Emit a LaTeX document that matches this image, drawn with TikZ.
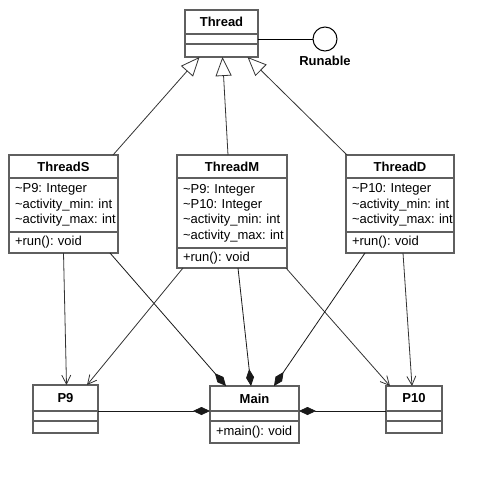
\documentclass[tikz,border=0pt]{standalone}
\usepackage{fontspec}
\setmainfont{Liberation Sans}
\usetikzlibrary{positioning,arrows.meta}
\definecolor{umlgray}{RGB}{95,95,95}
\hyphenpenalty=10000
\tikzset{
  part/.style={draw=umlgray, line width=1.3pt, fill=white, outer sep=0pt, inner xsep=6pt, inner ysep=0pt,
    font=\fontsize{13}{15.3}\selectfont},
  head/.style={part, align=center, font=\fontsize{13}{15.3}\selectfont\bfseries},
  body/.style={part, align=left},
  inherit/.style={-{Triangle[length=19pt, width=16pt, fill=white]}, line width=0.8pt, black!80},
  owns/.style={-{Diamond[length=17pt, width=8pt]}, line width=0.8pt, black!90},
  uses/.style={-{Straight Barb[length=9pt, width=9pt]}, line width=0.8pt, black!80}
}

\begin{document}
\begin{tikzpicture}[x=1pt, y=-1pt]
    \useasboundingbox (0,0) rectangle (495,483);
    % interface side
    \node[head, text width=61pt, minimum height=24pt, anchor=north west] (thread) at (185,10) {Thread};
    \node[body, text width=61pt, minimum height=10pt, below=0pt of thread] (threadA) {};
    \node[body, text width=61pt, minimum height=13pt, below=0pt of threadA] (threadO) {};
    \node[circle, draw, line width=1pt, minimum size=24pt, inner sep=0pt] (runable) at (325,39) {};
    \node[below=1pt of runable, font=\fontsize{13}{15.3}\selectfont\bfseries] (runableL) {Runable};
    % threads
    \node[head, text width=97pt, minimum height=23pt, anchor=north west] (threadS) at (9,155) {ThreadS};
    \node[body, text width=97pt, minimum height=54pt, below=0pt of threadS] (threadSA)
      {\textasciitilde P9:~Integer\\\textasciitilde activity\_min:~int\\\textasciitilde activity\_max:~int};
    \node[body, text width=97pt, minimum height=21pt, below=0pt of threadSA] (threadSO) {+run():~void};
    \node[head, text width=98pt, minimum height=23pt, anchor=north west] (threadM) at (177,155) {ThreadM};
    \node[body, text width=98pt, minimum height=70pt, below=0pt of threadM] (threadMA)
      {\textasciitilde P9:~Integer\\\textasciitilde P10:~Integer\\\textasciitilde activity\_min:~int\\\textasciitilde activity\_max:~int};
    \node[body, text width=98pt, minimum height=20pt, below=0pt of threadMA] (threadMO) {+run():~void};
    \node[head, text width=96pt, minimum height=23pt, anchor=north west] (threadD) at (346,155) {ThreadD};
    \node[body, text width=96pt, minimum height=54pt, below=0pt of threadD] (threadDA)
      {\textasciitilde P10:~Integer\\\textasciitilde activity\_min:~int\\\textasciitilde activity\_max:~int};
    \node[body, text width=96pt, minimum height=21pt, below=0pt of threadDA] (threadDO) {+run():~void};
    % bottom row
    \node[head, text width=53pt, minimum height=26pt, anchor=north west] (p9) at (33,385) {P9};
    \node[body, text width=53pt, minimum height=10pt, below=0pt of p9] (p9A) {};
    \node[body, text width=53pt, minimum height=12pt, below=0pt of p9A] (p9O) {};
    \node[head, text width=77pt, minimum height=25pt, anchor=north west] (main) at (210,386) {Main};
    \node[body, text width=77pt, minimum height=10pt, below=0pt of main] (mainA) {};
    \node[body, text width=77pt, minimum height=22pt, below=0pt of mainA] (mainO) {+main():~void};
    \node[head, text width=44pt, minimum height=25pt, anchor=north west] (p10) at (386,386) {P10};
    \node[body, text width=44pt, minimum height=10pt, below=0pt of p10] (p10A) {};
    \node[body, text width=44pt, minimum height=12pt, below=0pt of p10A] (p10O) {};
    % connectors
    \draw[line width=0.8pt] (threadA.east) -- (runable.west);
    \draw[inherit] ([xshift=-5pt]threadS.north east) -- ([xshift=-22pt]threadO.south);
    \draw[inherit] ([xshift=-4pt]threadM.north) -- ([xshift=1pt]threadO.south);
    \draw[inherit] ([xshift=1pt]threadD.north west) -- ([xshift=26pt]threadO.south);
    \draw[uses] (threadSO.south) -- ([xshift=1pt]p9.north);
    \draw[owns] ([xshift=-8pt]threadSO.south east) -- ([xshift=16pt]main.north west);
    \draw[uses] ([xshift=6pt]threadMO.south west) -- ([xshift=-11pt]p9.north east);
    \draw[owns] ([xshift=6pt]threadMO.south) -- ([xshift=-3.5pt]main.north);
    \draw[uses] ([xshift=-1pt]threadMO.south east) -- ([xshift=4pt]p10.north west);
    \draw[owns] ([xshift=19pt]threadDO.south west) -- ([xshift=-25pt]main.north east);
    \draw[uses] ([xshift=3pt]threadDO.south) -- ([xshift=-2pt]p10.north);
    \draw[owns] (p9.south east) -- (main.south west);
    \draw[owns] (p10.south west) -- (main.south east);
  \end{tikzpicture}
\end{document}
